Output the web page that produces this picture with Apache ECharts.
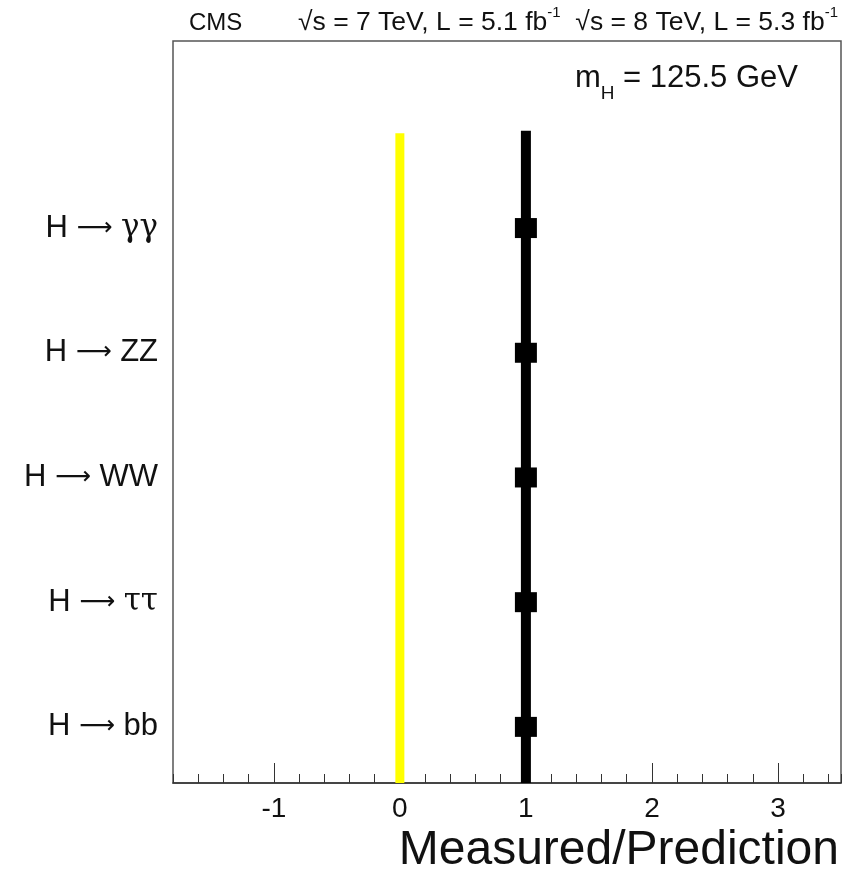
<!DOCTYPE html>
<html lang="en">
<head>
    <meta charset="UTF-8">
    <title>CMS Measured/Prediction</title>
    <style>
        html, body { margin: 0; padding: 0; background: #fff; }
    </style>
</head>
<body>
<div id="main" style="width: 847px;height:873px;"></div>

<script src="https://cdn.jsdelivr.net/npm/echarts@6/dist/echarts.min.js"></script>

<script type="text/javascript">
    // decay channels, bottom to top (y position = index)
    var channels = ['H → bb', 'H → ττ', 'H → WW', 'H → ZZ', 'H → γγ'];
    // measured / prediction for each channel
    var measured = [1, 1, 1, 1, 1];
    // vertical reference lines: yellow at 0, black at 1
    var zeroLine = [[0, -0.45], [0, 4.76]];
    var oneLine = [[1, -0.45], [1, 4.78]];
    // tick labels on the x axis
    var xLabels = [-1, 0, 1, 2, 3];

    var myChart = echarts.init(document.getElementById('main'));

    // split "H → xx" into plain part and particle part for rich text
    function channelLabel(name) {
        var parts = name.split(' → ');
        var greek = /[γτ]/.test(parts[1]);
        return '{a|H }{r|⟶}{a| }' + (greek ? '{g|' + parts[1] + '}' : '{a|' + parts[1] + '}');
    }

    var option = {
        backgroundColor: '#fff',
        animation: false,
        grid: {
            left: 173, right: 6, top: 41, bottom: 90,
            show: true,
            borderColor: '#555',
            borderWidth: 1.5,
            backgroundColor: 'transparent'
        },
        xAxis: [
            {   // minor ticks
                type: 'value',
                min: -1.8, max: 3.5, interval: 0.2,
                axisLine: { show: true, onZero: false, lineStyle: { color: '#333', width: 1.5 } },
                axisTick: { show: true, inside: true, length: 9, lineStyle: { color: '#333' } },
                axisLabel: { show: false },
                splitLine: { show: false }
            },
            {   // major ticks with labels
                type: 'value',
                position: 'bottom',
                min: -1.8, max: 3.5,
                axisLine: { show: false, onZero: false },
                axisTick: { show: true, inside: true, length: 20, customValues: xLabels, lineStyle: { color: '#333' } },
                axisLabel: {
                    show: true, customValues: xLabels, margin: 12,
                    fontFamily: 'Liberation Sans', fontSize: 28, color: '#111'
                },
                splitLine: { show: false }
            }
        ],
        yAxis: {
            type: 'value',
            min: -0.45, max: 5.5,
            axisLine: { show: false },
            axisTick: { show: false },
            splitLine: { show: false },
            axisLabel: {
                show: true,
                customValues: [0, 1, 2, 3, 4],
                margin: 15,
                formatter: function (v) { return channelLabel(channels[Math.round(v)]); },
                rich: {
                    a: { fontFamily: 'Liberation Sans', fontSize: 31, color: '#111' },
                    r: { fontFamily: 'DejaVu Sans', fontSize: 25, color: '#111' },
                    g: { fontFamily: 'DejaVu Serif', fontSize: 31, color: '#111' }
                }
            }
        },
        graphic: [
            {
                type: 'text', left: 189, top: 11,
                style: { text: 'CMS', font: '24px "Liberation Sans"', fill: '#111' }
            },
            {
                type: 'text', right: 9, top: 5,
                style: {
                    text: '{a|√s = 7 TeV, L = 5.1 fb}{s|-1}{a|  √s = 8 TeV, L = 5.3 fb}{s|-1}',
                    rich: {
                        a: { fontFamily: 'Liberation Sans', fontSize: 26.5, fill: '#111', lineHeight: 31, verticalAlign: 'bottom' },
                        s: { fontFamily: 'Liberation Sans', fontSize: 15, fill: '#111', lineHeight: 31, verticalAlign: 'top' }
                    }
                }
            },
            {
                type: 'text', right: 49, top: 63,
                style: {
                    text: '{a|m}{s|H}{a| = 125.5 GeV}',
                    rich: {
                        a: { fontFamily: 'Liberation Sans', fontSize: 31, fill: '#111', lineHeight: 36, verticalAlign: 'top' },
                        s: { fontFamily: 'Liberation Sans', fontSize: 19, fill: '#111', lineHeight: 40, verticalAlign: 'bottom' }
                    }
                }
            },
            {
                type: 'text', right: 8, top: 827,
                style: { text: 'Measured/Prediction', font: '48px "Liberation Sans"', fill: '#111' }
            }
        ],
        series: [
            {
                name: 'zero',
                type: 'line',
                xAxisIndex: 1,
                data: zeroLine,
                symbol: 'none',
                lineStyle: { color: '#ffff00', width: 9, cap: 'butt' },
                z: 2
            },
            {
                name: 'one',
                type: 'line',
                xAxisIndex: 1,
                data: oneLine,
                symbol: 'none',
                lineStyle: { color: '#000', width: 10, cap: 'butt' },
                z: 3
            },
            {
                name: 'measured',
                type: 'scatter',
                xAxisIndex: 1,
                data: measured.map(function (v, i) { return [v, i]; }),
                symbol: 'rect',
                symbolSize: [22, 20],
                itemStyle: { color: '#000', opacity: 1 },
                z: 4
            }
        ]
    };

    myChart.setOption(option);
</script>
</body>
</html>
